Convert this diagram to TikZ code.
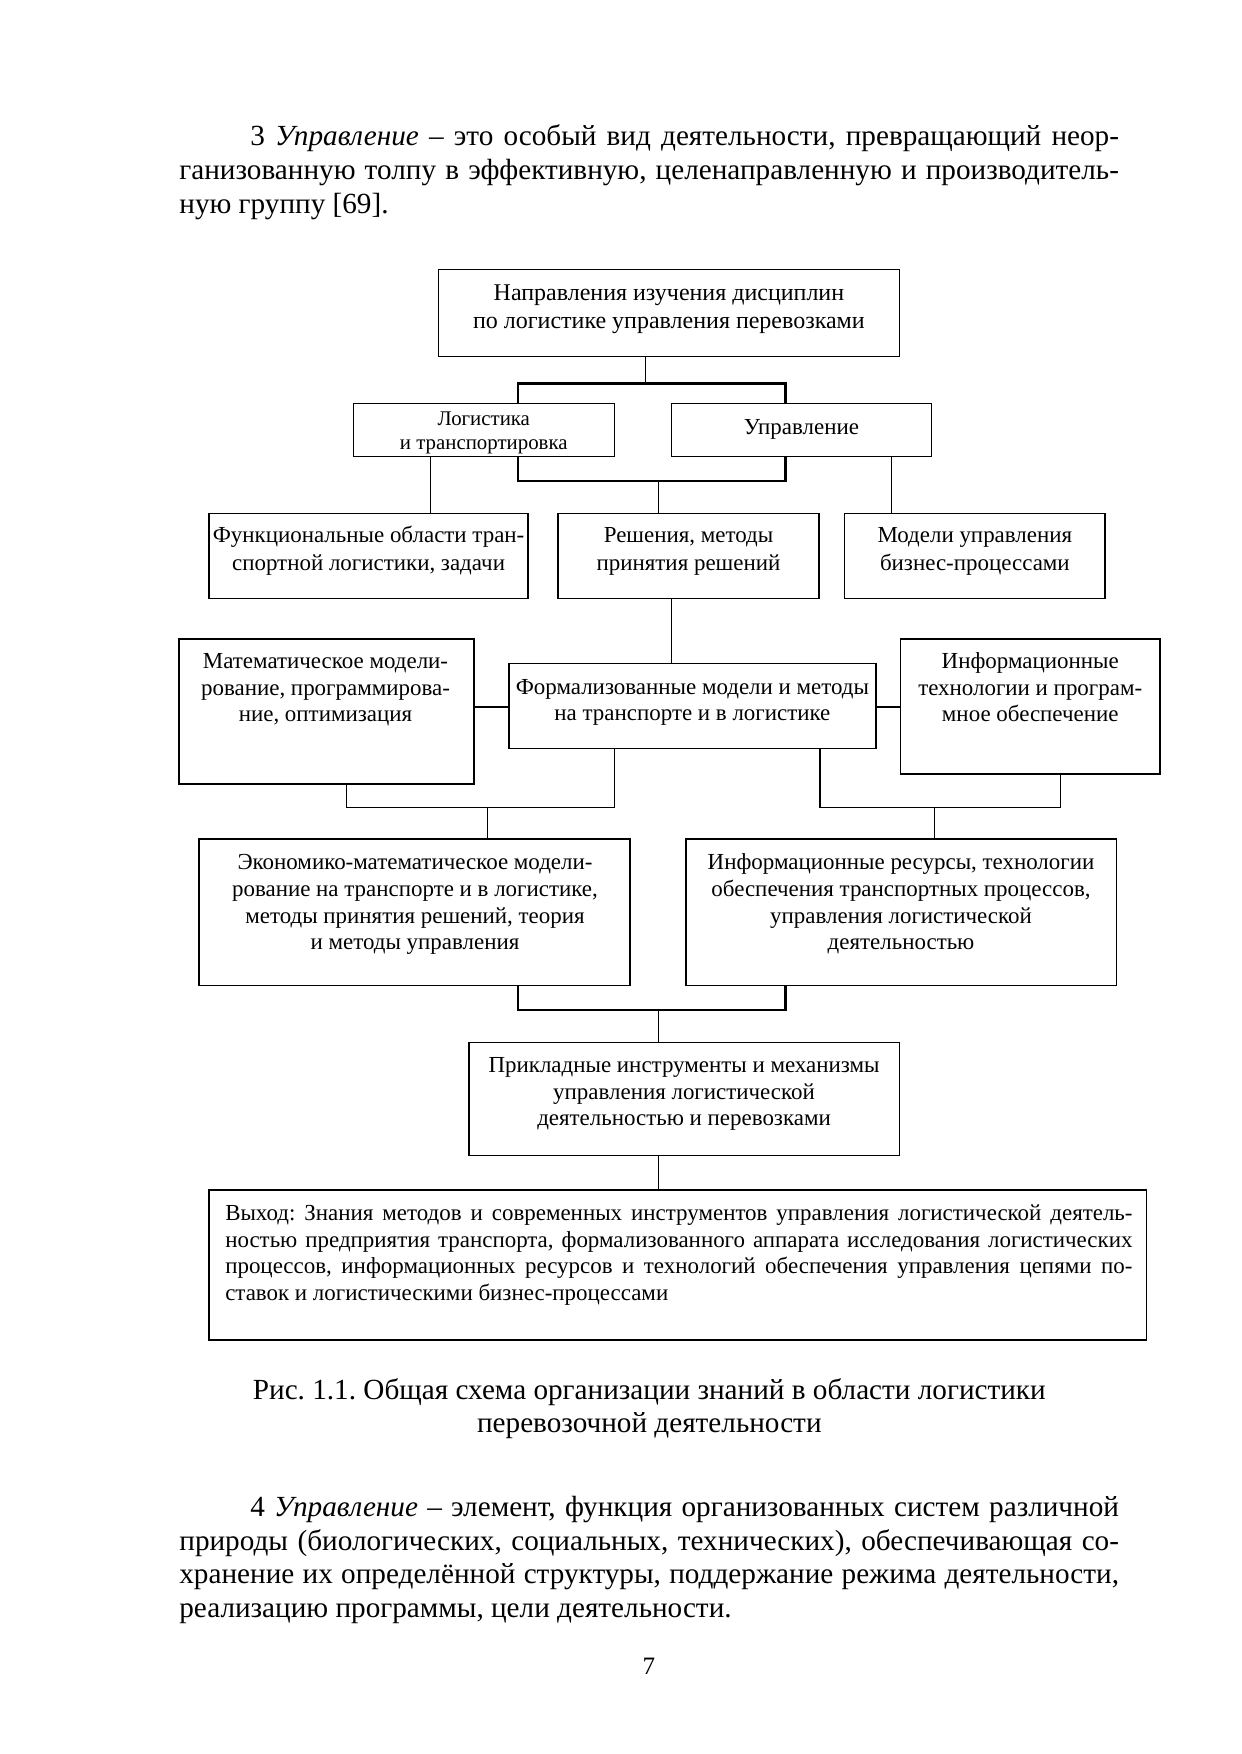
\documentclass[tikz,border=0pt]{standalone}
\usepackage{fontspec}
\setmainfont{Liberation Serif}
\usetikzlibrary{fit}
\frenchspacing
\begin{document}
\begin{tikzpicture}[x=0.5363pt,y=-0.5363pt,
  box/.style={draw, line width=0.8pt, inner sep=0pt},
  thinbox/.style={draw, line width=0.6pt, inner sep=0pt},
  lbl/.style={inner sep=0pt, align=center, font=\fontsize{11}{12.8}\selectfont},
  lblw/.style={inner sep=0pt, align=center, font=\fontsize{11}{13.4}\selectfont},
  stem/.style={line width=0.5pt},
  bar/.style={line width=1.2pt},
  leg/.style={line width=0.6pt},
  para/.style={inner sep=0pt, anchor=north west, font=\fontsize{14}{16.3}\selectfont}
]
\useasboundingbox (0,0) rectangle (1110,1568);

% paragraph 3
\node[para] (p3) at (160,108) {\vbox{\hsize=450.5pt
  \hbox to\hsize{\strut\hskip 34pt 3 \textit{Управление} – это особый вид деятельности, превращающий неор-}
  \hbox to\hsize{ганизованную толпу в эффективную, целенаправленную и производитель-}
  \hbox{ную группу [69].}}};

% boxes
\node[thinbox, fit={(392,241)(804,319)}] (top) {};
\node[lblw, font=\fontsize{11.5}{13.4}\selectfont, anchor=north] (ttop) at (598,251) {\strut Направления изучения дисциплин\\по логистике управления перевозками};

\node[thinbox, fit={(316,361)(549,408)}] (logi) {};
\node[lbl, font=\fontsize{10}{11.3}\selectfont, anchor=north] (tlogi) at (432.5,365.5) {\strut Логистика\\и транспортировка};

\node[thinbox, fit={(600,361)(833,408)}] (upr) {};
\node[lbl, font=\fontsize{11}{12}\selectfont, anchor=base] (tupr) at (716.5,388) {Управление};

\node[box, fit={(187,459)(472,535)}] (func) {};
\node[lblw, anchor=north] (tfunc) at (329.5,467.5) {\strut Функциональные области тран-\\спортной логистики, задачи};

\node[box, fit={(499,459)(732,535)}] (resh) {};
\node[lblw, anchor=north] (tresh) at (615.5,467.5) {\strut Решения, методы\\принятия решений};

\node[box, fit={(755,459)(988,535)}] (model) {};
\node[lblw, anchor=north] (tmodel) at (871.5,467.5) {\strut Модели управления\\бизнес-процессами};

\node[box, fit={(160,571)(424,701)}] (mat) {};
\node[lbl, anchor=north] (tmat) at (291,580.5) {\strut Математическое модели-\\рование, программирова-\\ние, оптимизация};

\node[box, fit={(455,593)(783,669)}] (formal) {};
\node[lbl, anchor=north] (tformal) at (619,603.5) {\strut Формализованные модели и методы\\на транспорте и в логистике};

\node[box, fit={(805,571)(1037,692)}] (info) {};
\node[lbl, anchor=north] (tinfo) at (921,580.5) {\strut Информационные\\технологии и програм-\\мное обеспечение};

\node[box, fit={(178,750)(563,881)}] (econ) {};
\node[lbl, anchor=north] (tecon) at (371,760.5) {\strut Экономико-математическое модели-\\рование на транспорте и в логистике,\\методы принятия решений, теория\\и методы управления};

\node[box, fit={(613,750)(998,881)}] (ires) {};
\node[lbl, anchor=north] (tires) at (805.5,760.5) {\strut Информационные ресурсы, технологии\\обеспечения транспортных процессов,\\управления логистической\\деятельностью};

\node[box, fit={(419,932)(804,1033)}] (prikl) {};
\node[lbl, anchor=north] (tprikl) at (611.5,941.5) {\strut Прикладные инструменты и механизмы\\управления логистической\\деятельностью и перевозками};

\node[box, fit={(187,1064)(1025,1198)}] (vyhod) {};
\node[inner sep=0pt, anchor=north west, font=\fontsize{11}{12.7}\selectfont] (tvyhod) at (201,1074.5) {\vbox{\hsize=435pt
  \hbox to\hsize{\strut Выход: Знания методов и современных инструментов управления логистической деятель-}
  \hbox to\hsize{ностью предприятия транспорта, формализованного аппарата исследования логистических}
  \hbox to\hsize{процессов, информационных ресурсов и технологий обеспечения управления цепями по-}
  \hbox{ставок и логистическими бизнес-процессами}}};

% junction coordinates
\coordinate (a1) at (577,343);
\coordinate (b1L) at (463,343);
\coordinate (b1R) at (702,343);
\coordinate (b2L) at (463,430);
\coordinate (b2R) at (702,430);
\coordinate (b2c) at (589,430);
\coordinate (cL) at (385,435);
\coordinate (cR) at (797,435);
\coordinate (c4) at (600,560);
\coordinate (c5) at (440,632);
\coordinate (c6) at (794,632);
\coordinate (d1) at (310,722);
\coordinate (d2) at (549,722);
\coordinate (d3) at (436,722);
\coordinate (e1) at (733,722);
\coordinate (e2) at (948,722);
\coordinate (e3) at (835,722);
\coordinate (f1) at (463,903);
\coordinate (f2) at (702,903);
\coordinate (f3) at (589,903);
\coordinate (g1) at (589,1050);

% connectors
\draw[stem] (top.south -| a1) -- (a1);
\draw[bar] (logi.north -| b1L) -- (b1L) -- (b1R) -- (upr.north -| b1R);
\draw[bar] (logi.south -| b2L) -- (b2L) -- (b2R) -- (upr.south -| b2R);
\draw[stem] (b2c) -- (resh.north -| b2c);
\draw[stem] (logi.south -| cL) -- (func.north -| cL);
\draw[stem] (upr.south -| cR) -- (model.north -| cR);
\draw[stem] (resh.south -| c4) -- (formal.north -| c4);
\draw[bar] (mat.east |- c5) -- (formal.west |- c5);
\draw[bar] (formal.east |- c6) -- (info.west |- c6);
\draw[leg] (mat.south -| d1) -- (d1) -- (d2) -- (formal.south -| d2);
\draw[stem] (d3) -- (econ.north -| d3);
\draw[leg] (formal.south -| e1) -- (e1) -- (e2) -- (info.south -| e2);
\draw[stem] (e3) -- (ires.north -| e3);
\draw[bar] (econ.south -| f1) -- (f1) -- (f2) -- (ires.south -| f2);
\draw[stem] (f3) -- (prikl.north -| f3);
\draw[stem] (prikl.south -| g1) -- (vyhod.north -| g1);

% caption
\node[inner sep=0pt, anchor=north, align=center, font=\fontsize{14}{16.1}\selectfont] (cap) at (580.5,1229.5) {\strut Рис. 1.1. Общая схема организации знаний в области логистики\\перевозочной деятельности};

% paragraph 4
\node[para, font=\fontsize{14}{16.1}\selectfont] (p4) at (160,1334.5) {\vbox{\hsize=450.5pt
  \hbox to\hsize{\strut\hskip 34pt 4 \textit{Управление} – элемент, функция организованных систем различной}
  \hbox to\hsize{природы (биологических, социальных, технических), обеспечивающая со-}
  \hbox to\hsize{хранение их определённой структуры, поддержание режима деятельности,}
  \hbox{реализацию программы, цели деятельности.}}};

\node[inner sep=0pt, anchor=base, font=\fontsize{12}{14}\selectfont] (pnum) at (580,1497) {7};
\end{tikzpicture}
\end{document}
